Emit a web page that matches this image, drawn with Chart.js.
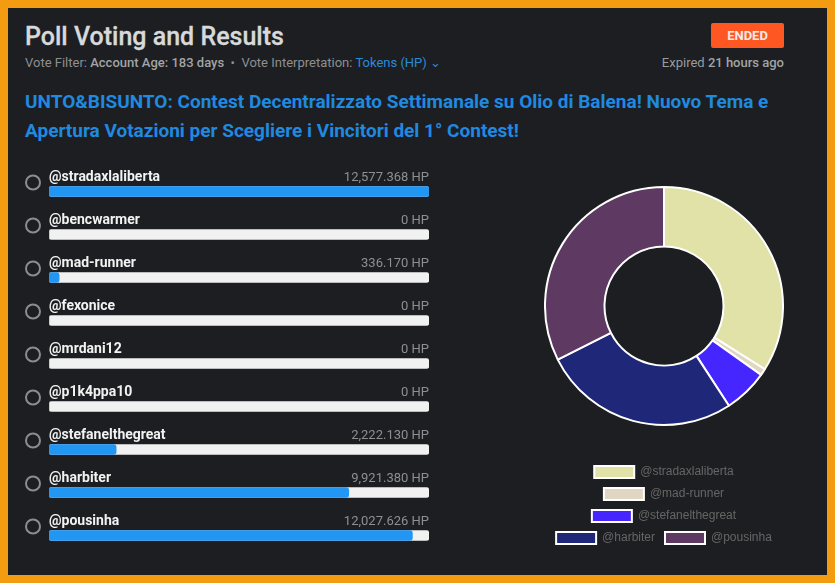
<!DOCTYPE html>
<html>
<head>
<meta charset="utf-8">
<script src="https://cdn.jsdelivr.net/npm/chart.js@4/dist/chart.umd.min.js"></script>
<style>
html, body { margin: 0; padding: 0; background: #f39c12; }
#panel { position: absolute; left: 8px; top: 8px; width: 819px; height: 567px; background: #1c1e21; font-family: Roboto, sans-serif; overflow: hidden; }
#panel div, #panel canvas { position: absolute; white-space: nowrap; }
#title { left: 17px; top: 14px; font-size: 25px; line-height: 30px; font-weight: 500; color: #d8d9da; -webkit-text-stroke: 0.3px #d8d9da; }
#filter { left: 17px; top: 47px; font-size: 13px; line-height: 16px; color: #8e8f91; }
#filter b { font-weight: 500; color: #a3a4a6; }
#filter span { color: #2b8bd6; }
#badge { left: 703px; top: 15px; width: 73px; height: 25px; line-height: 25px; background: #ff5722; border-radius: 2px; color: #f4ece8; font-size: 13px; font-weight: 700; text-align: center; }
#expired { right: 43px; top: 47px; font-size: 13px; line-height: 16px; color: #9a9b9d; }
#expired b { font-weight: 500; color: #a3a4a6; }
#question { left: 17px; top: 79px; font-size: 19px; line-height: 29px; font-weight: 700; color: #2089e0; }
#bars { left: 17px; top: 162px; width: 404px; height: 387px; }
#pie { left: 536px; top: 148px; width: 240px; height: 398px; }
</style>
</head>
<body>
<div id="panel">
  <div id="title">Poll Voting and Results</div>
  <div id="filter">Vote Filter: <b>Account Age: 183 days</b> &nbsp;•&nbsp; Vote Interpretation: <span>Tokens (HP) ⌄</span></div>
  <div id="badge">ENDED</div>
  <div id="expired">Expired <b>21 hours ago</b></div>
  <div id="question">UNTO&amp;BISUNTO: Contest Decentralizzato Settimanale su Olio di Balena! Nuovo Tema e<br>Apertura Votazioni per Scegliere i Vincitori del 1° Contest!</div>
  <canvas id="bars" width="404" height="387"></canvas>
  <canvas id="pie" width="240" height="398"></canvas>
</div>
<script>
"use strict";
const candidates = ["@stradaxlaliberta", "@bencwarmer", "@mad-runner", "@fexonice", "@mrdani12", "@p1k4ppa10", "@stefanelthegreat", "@harbiter", "@pousinha"];
const votes = [12577.368, 0, 336.170, 0, 0, 0, 2222.130, 9921.380, 12027.626];
const voteLabels = ["12,577.368 HP", "0 HP", "336.170 HP", "0 HP", "0 HP", "0 HP", "2,222.130 HP", "9,921.380 HP", "12,027.626 HP"];
const sliceColors = ["#e0e2a8", "#8a8a8a", "#e0d6c2", "#8a8a8a", "#8a8a8a", "#8a8a8a", "#4526ff", "#1f2878", "#5e3a62"];

const topVote = Math.max(...votes);
const track = votes.map(() => topVote);

// names, amounts and radio buttons for each row
const rowText = {
    id: "rowText",
    afterDatasetsDraw(chart) {
        const ctx = chart.ctx;
        const rows = chart.getDatasetMeta(0).data;
        const right = chart.chartArea.right;
        const left = chart.chartArea.left;
        ctx.save();
        rows.forEach((bar, i) => {
            ctx.beginPath();
            ctx.arc(8, bar.y - 9, 7, 0, Math.PI * 2);
            ctx.strokeStyle = "#8c8d8f";
            ctx.lineWidth = 2;
            ctx.stroke();
            ctx.textBaseline = "middle";
            ctx.textAlign = "left";
            ctx.fillStyle = "#f2f2f2";
            ctx.font = "700 14px Roboto";
            ctx.fillText(candidates[i], left, bar.y - 14);
            ctx.textAlign = "right";
            ctx.fillStyle = "#8e8f91";
            ctx.font = "13px Roboto";
            ctx.fillText(voteLabels[i], right, bar.y - 14);
        });
        ctx.restore();
    }
};

new Chart(document.getElementById("bars"), {
    type: "bar",
    data: {
        labels: candidates,
        datasets: [
            { data: votes, backgroundColor: "#2196f3", order: 1 },
            { data: track, backgroundColor: "#f1f1f1", order: 2 }
        ]
    },
    options: {
        indexAxis: "y",
        responsive: false,
        animation: false,
        events: [],
        barThickness: 10,
        borderRadius: 3,
        borderSkipped: false,
        grouped: false,
        layout: { padding: { left: 24 } },
        scales: {
            x: { display: false, min: 0, max: topVote },
            y: { display: false }
        },
        plugins: { legend: { display: false }, tooltip: { enabled: false } }
    },
    plugins: [rowText]
});

new Chart(document.getElementById("pie"), {
    type: "doughnut",
    data: {
        labels: candidates,
        datasets: [{ data: votes, backgroundColor: sliceColors, borderColor: "#ffffff", borderWidth: 2 }]
    },
    options: {
        responsive: false,
        animation: false,
        events: [],
        cutout: "50%",
        plugins: {
            tooltip: { enabled: false },
            legend: {
                position: "bottom",
                labels: {
                    color: "#666666",
                    font: { family: "'Liberation Sans'", size: 12 },
                    filter: (item, data) => data.datasets[0].data[item.index] > 0
                }
            }
        }
    }
});
</script>
</body>
</html>
